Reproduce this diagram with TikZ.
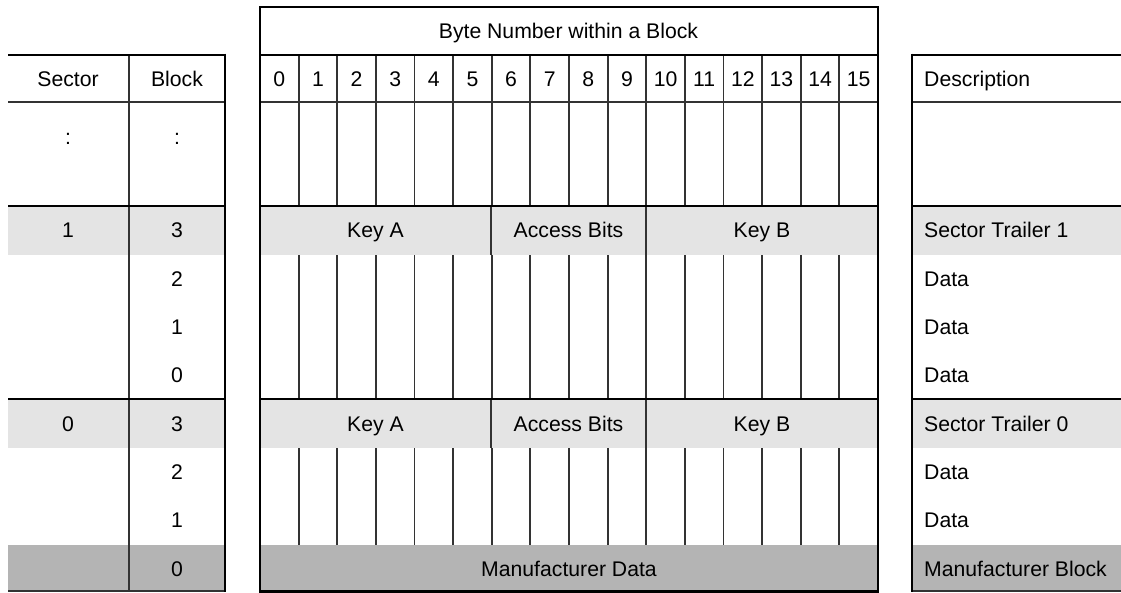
\documentclass[tikz,border=0pt]{standalone}
\usepackage{fontspec}
\setmainfont{Liberation Sans}
\definecolor{trail}{HTML}{E4E4E4}
\definecolor{manu}{HTML}{B4B4B4}
\definecolor{thinline}{HTML}{333333}
\begin{document}
\begin{tikzpicture}[x=1pt,y=-1pt,
  thickln/.style={line width=2.8pt,black},
  thinln/.style={line width=1.9pt,thinline},
  txt/.style={inner sep=0pt,anchor=base,font=\fontsize{21.2}{25}\selectfont,text=black},
  ltxt/.style={txt,anchor=base west}]
\useasboundingbox (0,0) rectangle (1121,592);
% fills
\foreach \x/\w in {8/225,260/878,912/1121}{
  \fill[trail] (\x,206) rectangle (\w,255);
  \fill[trail] (\x,399) rectangle (\w,448);
  \fill[manu] (\x,545) rectangle (\w,592);
}
% ---------- left table ----------
\draw[thinln] (8,102) -- (225,102);
\draw[thinln] (129,55) -- (129,592);
\draw[thinln] (8,591) -- (225,591);
\draw[thickln] (8,55) -- (225,55);
\draw[thickln] (8,206) -- (225,206);
\draw[thickln] (8,399) -- (225,399);
\draw[thickln] (225,53.6) -- (225,592);
\node[txt] (hsec) at (68,86.5) {Sector};
\node[txt] (hblk) at (177,86.5) {Block};
\node[txt] (dsec) at (68,144) {:};
\node[txt] (dblk) at (177,144) {:};
\node[txt] (s1) at (68,237.5) {1};
\node[txt] (b13) at (177,237.5) {3};
\node[txt] (b12) at (177,286.5) {2};
\node[txt] (b11) at (177,334.5) {1};
\node[txt] (b10) at (177,382.5) {0};
\node[txt] (s0) at (68,431.5) {0};
\node[txt] (b03) at (177,431.5) {3};
\node[txt] (b02) at (177,479.5) {2};
\node[txt] (b01) at (177,527.5) {1};
\node[txt] (b00) at (177,576.5) {0};
% ---------- middle table ----------
\foreach \i in {1,...,15}{
  \pgfmathsetmacro{\xx}{260+\i*38.625}
  \draw[thinln] (\xx,55) -- (\xx,206);
  \draw[thinln] (\xx,255) -- (\xx,399);
  \draw[thinln] (\xx,448) -- (\xx,545);
}
\foreach \i in {0,...,15}{
  \pgfmathsetmacro{\xc}{260+\i*38.625+19.3}
  \node[txt] (byte\i) at (\xc,86.5) {\i};
}
\foreach \xx in {491,646}{
  \draw[thinln] (\xx,206) -- (\xx,255);
  \draw[thinln] (\xx,399) -- (\xx,448);
}
\draw[thinln] (260,102) -- (878,102);
\draw[thickln] (260,55) -- (878,55);
\draw[thickln] (260,206) -- (878,206);
\draw[thickln] (260,399) -- (878,399);
\draw[thickln] (260,7) rectangle (878,591.5);
\node[txt] (title) at (568.5,38.5) {Byte Number within a Block};
\node[txt] (ka1) at (375.5,237.5) {Key A};
\node[txt] (ab1) at (568.5,237.5) {Access Bits};
\node[txt] (kb1) at (762,237.5) {Key B};
\node[txt] (ka0) at (375.5,431.5) {Key A};
\node[txt] (ab0) at (568.5,431.5) {Access Bits};
\node[txt] (kb0) at (762,431.5) {Key B};
\node[txt] (mdata) at (569,576.5) {Manufacturer Data};
% ---------- right table ----------
\draw[thinln] (912,102) -- (1121,102);
\draw[thinln] (912,591) -- (1121,591);
\draw[thickln] (912,55) -- (1121,55);
\draw[thickln] (912,206) -- (1121,206);
\draw[thickln] (912,399) -- (1121,399);
\draw[thickln] (912,53.6) -- (912,592);
\node[ltxt] (desc) at (924,86.5) {Description};
\node[ltxt] (st1) at (924,237.5) {Sector Trailer 1};
\node[ltxt] (d12) at (924,286.5) {Data};
\node[ltxt] (d11) at (924,334.5) {Data};
\node[ltxt] (d10) at (924,382.5) {Data};
\node[ltxt] (st0) at (924,431.5) {Sector Trailer 0};
\node[ltxt] (d02) at (924,479.5) {Data};
\node[ltxt] (d01) at (924,527.5) {Data};
\node[ltxt] (mb) at (924,576.5) {Manufacturer Block};
\end{tikzpicture}
\end{document}
